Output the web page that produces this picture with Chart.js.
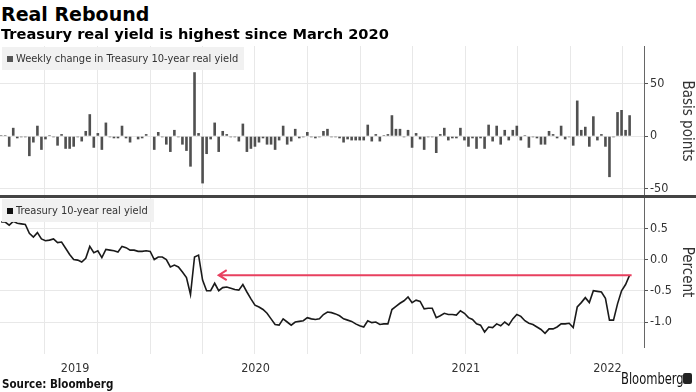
<!DOCTYPE html>
<html>
<head>
<meta charset="utf-8">
<script src="https://cdn.jsdelivr.net/npm/chart.js@4.4.1/dist/chart.umd.min.js"></script>
<style>
  body { margin: 0; background: #fff; }
  #wrap { position: relative; width: 696px; height: 392px; overflow: hidden; font-family: "DejaVu Sans Condensed", "DejaVu Sans", sans-serif; font-stretch: condensed; color: #000; }
  .abs { position: absolute; }
  canvas { display: block; }
  #title { left: 1px; top: 4px; font-family: "DejaVu Sans", sans-serif; font-stretch: normal; font-size: 19px; font-weight: bold; line-height: 20px; white-space: nowrap; }
  #subtitle { left: 1px; top: 26px; font-family: "DejaVu Sans", sans-serif; font-stretch: normal; font-size: 14.6px; font-weight: bold; line-height: 16px; white-space: nowrap; }
  .legend { background: rgba(240, 240, 240, 0.95); font-size: 11px; color: #333; line-height: 23px; padding: 0 6px 0 5px; white-space: nowrap; }
  .legend i { display: inline-block; width: 6px; height: 6px; margin-right: 3px; vertical-align: 0; }
  #sep { left: 0; top: 195px; width: 696px; height: 3px; background: #444; }
  #source { left: 2px; top: 377px; font-size: 11.5px; font-weight: bold; color: #111; }
  #brand { left: 621px; top: 369px; font-size: 16px; color: #111; transform: scaleX(0.8); transform-origin: left top; }
  #brandIcon { left: 683px; top: 373px; width: 9px; height: 11px; background: #222; border-radius: 2px; }
</style>
</head>
<body>
<div id="wrap">
  <div class="abs" style="left:0;top:46px;"><canvas id="changeChart" width="696" height="150"></canvas></div>
  <div class="abs" style="left:0;top:196px;"><canvas id="yieldChart" width="696" height="184"></canvas></div>
  <div class="abs" id="title">Real Rebound</div>
  <div class="abs" id="subtitle">Treasury real yield is highest since March 2020</div>
  <div class="abs legend" style="left:2px;top:47px;"><i style="background:#555"></i>Weekly change in Treasury 10-year real yield</div>
  <div class="abs legend" style="left:2px;top:199px;"><i style="background:#111"></i>Treasury 10-year real yield</div>
  <div class="abs" id="sep"></div>
  <div class="abs" id="source">Source: Bloomberg</div>
  <div class="abs" id="brand">Bloomberg</div>
  <div class="abs" id="brandIcon"></div>
</div>
<script>
const DAY = 86400000;

// weekly observations, first one on 2019-04-17
const firstWeek = Date.UTC(2019, 3, 17);

// weekly change in bp
const weeklyChange = [
  1, 1, -10, 8, -2, -1, -1, -19, -6, 10,
  -13, -3, 1, -1, -9, 2, -12, -12, -10, -1,
  -5, 5, 21, -11, 3, -13, 13, -1, -2, -2,
  10, -2, -6, 0, -3, -2, 2, 0, -13, 4,
  -1, -8, -15, 6, -1, -8, -14, -29, 61, 3,
  -45, -17, -3, 13, -15, 5, 2, -1, -1, -5,
  12, -15, -12, -10, -6, -2, -8, -8, -13, -4,
  10, -8, -5, 7, -2, -1, 4, -1, -2, -1,
  5, 7, -1, -1, -2, -6, -3, -4, -4, -4,
  -4, 11, -5, 2, -5, 1, 2, 20, 7, 7,
  -1, 6, -11, 3, -3, -13, -1, -1, -16, 2,
  8, -4, -2, -2, 8, -4, -10, -2, -12, -2,
  -12, 11, -5, 10, -8, 6, -4, 6, 10, -4,
  1, -11, -1, -2, -8, -8, 5, 2, -2, 10,
  -3, -1, -9, 34, 6, 9, -10, 19, -4, 2,
  -10, -39, -1, 23, 25, 6, 20
];

// 10-year real yield, percent
const realYield = [
  0.60, 0.60, 0.55, 0.61, 0.58, 0.57, 0.56, 0.42, 0.36, 0.43,
  0.33, 0.30, 0.31, 0.33, 0.27, 0.28, 0.18, 0.08, 0.00, -0.01,
  -0.04, 0.02, 0.21, 0.11, 0.14, 0.03, 0.16, 0.15, 0.14, 0.12,
  0.21, 0.19, 0.15, 0.15, 0.13, 0.13, 0.14, 0.13, 0.00, 0.04,
  0.04, 0.00, -0.12, -0.09, -0.12, -0.20, -0.29, -0.56, 0.04, 0.07,
  -0.33, -0.50, -0.50, -0.38, -0.50, -0.45, -0.44, -0.46, -0.48, -0.49,
  -0.40, -0.52, -0.63, -0.73, -0.76, -0.80, -0.86, -0.95, -1.04, -1.05,
  -0.95, -1.00, -1.05, -1.00, -0.99, -0.98, -0.93, -0.95, -0.96, -0.95,
  -0.88, -0.84, -0.85, -0.87, -0.90, -0.95, -0.97, -0.99, -1.03, -1.06,
  -1.08, -0.98, -1.01, -1.00, -1.04, -1.03, -1.03, -0.80, -0.75, -0.70,
  -0.66, -0.60, -0.69, -0.65, -0.67, -0.79, -0.78, -0.78, -0.93, -0.90,
  -0.86, -0.88, -0.88, -0.89, -0.82, -0.86, -0.93, -0.96, -1.03, -1.05,
  -1.16, -1.08, -1.09, -1.03, -1.06, -1.00, -1.05, -0.95, -0.88, -0.91,
  -0.98, -1.02, -1.04, -1.08, -1.12, -1.18, -1.11, -1.11, -1.08, -1.03,
  -1.03, -1.02, -1.09, -0.76, -0.69, -0.61, -0.69, -0.50, -0.51, -0.52,
  -0.62, -0.97, -0.97, -0.71, -0.50, -0.40, -0.25
];

const changeTicks = [-50, 0, 50];
const yieldTicks = [-1, -0.5, 0, 0.5];
const yearLabels = ['2019', '2020', '2021', '2022'];

// arrow: from the latest reading back to the last time the yield was this high
const arrowFrom = 156;
const arrowTo = 54;
const arrowLevel = -0.25;

const weekDates = weeklyChange.map((_, i) => firstWeek + i * 7 * DAY);
const xMin = Date.UTC(2019, 3, 15);
const xMax = Date.UTC(2022, 4, 8);

const quarterStarts = [];
for (let y = 2019; y <= 2022; y++) {
  for (let m = 0; m < 12; m += 3) {
    const t = Date.UTC(y, m, 1);
    if (t > xMin && t < xMax) quarterStarts.push(t);
  }
}
// year labels sit in the middle of the visible part of each year
const yearCenters = yearLabels.map(y => {
  const a = Math.max(Date.UTC(+y, 0, 1), xMin);
  const b = Math.min(Date.UTC(+y + 1, 0, 1), xMax);
  return (a + b) / 2;
});

const gridColor = '#e8e8e8';
const axisColor = '#666';
const tickFont = { family: '"DejaVu Sans Condensed", "DejaVu Sans"', size: 12.5 };
const titleFont = { family: '"DejaVu Sans Condensed", "DejaVu Sans"', size: 15 };

// no extra room round the plot for overhanging labels
const noPad = axis => {
  axis.paddingTop = 0;
  axis.paddingBottom = 0;
  axis.paddingLeft = 0;
  axis.paddingRight = 0;
};

const xBase = {
  type: 'linear',
  min: xMin,
  max: xMax,
  offset: false,
  afterBuildTicks: axis => { axis.ticks = quarterStarts.map(v => ({ value: v })); },
  ticks: { display: false },
  border: { display: false }
};

const rightAxis = (min, max, ticks, title, fmt) => ({
  position: 'right',
  min: min,
  max: max,
  afterBuildTicks: axis => { axis.ticks = ticks.map(v => ({ value: v })); },
  afterFit: axis => { axis.width = 52; noPad(axis); },
  ticks: { color: '#333', font: tickFont, padding: 2, callback: fmt },
  grid: { color: gridColor, tickColor: '#555', tickLength: 4 },
  border: { display: true, color: axisColor, width: 1 },
  title: { display: true, text: title, color: '#333', font: titleFont, padding: 0 }
});

new Chart(document.getElementById('changeChart'), {
  type: 'bar',
  data: {
    datasets: [{
      data: weeklyChange.map((v, i) => ({ x: weekDates[i], y: v })),
      backgroundColor: '#505050',
      barPercentage: 0.65,
      categoryPercentage: 1
    }]
  },
  options: {
    responsive: false,
    animation: false,
    layout: { padding: 0 },
    plugins: { legend: { display: false }, tooltip: { enabled: false } },
    scales: {
      x: Object.assign({}, xBase, {
        afterFit: axis => { axis.height = 0; noPad(axis); },
        grid: { color: gridColor, drawTicks: false, offset: false }
      }),
      y: rightAxis(-57, 86, changeTicks, 'Basis points', v => String(v))
    }
  }
});

const arrowPlugin = {
  id: 'arrow',
  afterDatasetsDraw(chart) {
    const { ctx, scales: { x, y } } = chart;
    const x1 = x.getPixelForValue(weekDates[arrowFrom]);
    const x0 = x.getPixelForValue(weekDates[arrowTo]);
    const yy = y.getPixelForValue(arrowLevel);
    ctx.save();
    ctx.strokeStyle = '#e8405f';
    ctx.lineWidth = 2;
    ctx.beginPath();
    ctx.moveTo(x1 + 2, yy);
    ctx.lineTo(x0, yy);
    ctx.moveTo(x0 + 8, yy - 5);
    ctx.lineTo(x0, yy);
    ctx.lineTo(x0 + 8, yy + 5);
    ctx.stroke();
    ctx.restore();
  }
};

new Chart(document.getElementById('yieldChart'), {
  type: 'line',
  data: {
    datasets: [{
      data: realYield.map((v, i) => ({ x: weekDates[i], y: v })),
      borderColor: '#1a1a1a',
      borderWidth: 1.6,
      pointRadius: 0,
      tension: 0
    }]
  },
  options: {
    responsive: false,
    animation: false,
    layout: { padding: { top: 1, left: 0, right: 0, bottom: 0 } },
    plugins: { legend: { display: false }, tooltip: { enabled: false } },
    scales: {
      x: Object.assign({}, xBase, {
        weight: 0,
        afterFit: axis => { axis.height = 8; noPad(axis); },
        grid: { color: gridColor, tickColor: gridColor, tickLength: 7 }
      }),
      x2: {
        type: 'linear',
        position: 'bottom',
        weight: 1,
        min: xMin,
        max: xMax,
        afterBuildTicks: axis => { axis.ticks = yearCenters.map(v => ({ value: v })); },
        afterFit: axis => { axis.height = 25; noPad(axis); },
        grid: { display: false, drawTicks: false },
        border: { display: false },
        ticks: {
          color: '#333',
          font: tickFont,
          padding: 6,
          maxRotation: 0,
          autoSkip: false,
          callback: (v, i) => yearLabels[i]
        }
      },
      y: rightAxis(-1.4, 1.0, yieldTicks, 'Percent', v => v.toFixed(1))
    }
  },
  plugins: [arrowPlugin]
});
</script>
</body>
</html>
